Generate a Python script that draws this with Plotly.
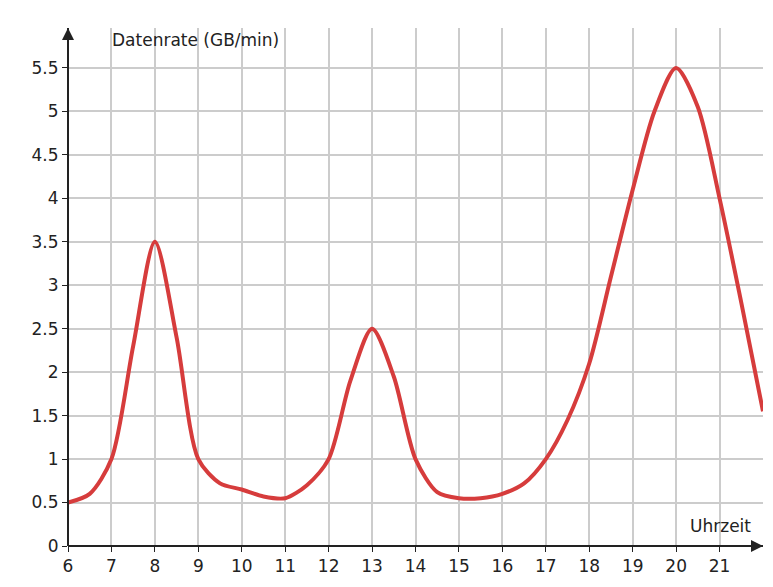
import plotly.graph_objects as go

hours = [6, 6.5, 7, 7.5, 8, 8.5, 9, 9.5, 10, 10.5, 11, 11.5, 12, 12.5, 13, 13.5, 14, 14.5, 15, 15.5, 16, 16.5, 17, 17.5, 18, 18.5, 19, 19.5, 20, 20.5, 21, 21.5, 22]
rate = [0.5, 0.6, 1.0, 2.3, 3.5, 2.4, 1.0, 0.72, 0.65, 0.57, 0.55, 0.7, 1.0, 1.9, 2.5, 1.95, 1.0, 0.62, 0.55, 0.55, 0.6, 0.72, 1.0, 1.45, 2.1, 3.1, 4.1, 5.0, 5.5, 5.05, 4.0, 2.8, 1.55]
xticks = list(range(6, 22))
yticks = [0, 0.5, 1, 1.5, 2, 2.5, 3, 3.5, 4, 4.5, 5, 5.5]

fig = go.Figure(go.Scatter(x=hours, y=rate, mode="lines",
                           line=dict(color="#d63c3c", width=4, shape="spline", smoothing=0.8)))
font = dict(family="DejaVu Sans", size=17, color="#222")
fig.update_layout(
    width=773, height=587, margin=dict(l=60, r=18, t=20, b=49),
    plot_bgcolor="white", paper_bgcolor="white", showlegend=False, font=font,
    xaxis=dict(range=[6, 22], tickvals=xticks, ticktext=[str(t) for t in xticks],
               showgrid=True, gridcolor="#cccccc", gridwidth=1.5, zeroline=False,
               showline=False, ticks="outside", ticklen=5, tickcolor="#222"),
    yaxis=dict(range=[0, 5.96], tickvals=yticks, ticktext=[f"{t:g}" for t in yticks],
               showgrid=True, gridcolor="#cccccc", gridwidth=1.5, zeroline=False,
               showline=False, ticks="outside", ticklen=5, tickcolor="#222"),
    annotations=[
        dict(x=0.06, y=1.0, xref="paper", yref="paper", text="Datenrate (GB/min)",
             showarrow=False, xanchor="left", yanchor="top", font=font),
        dict(x=0.985, y=0.015, xref="paper", yref="paper", text="Uhrzeit",
             showarrow=False, xanchor="right", yanchor="bottom", font=font),
        dict(x=1.0, y=0, ax=-12, ay=0, xref="paper", yref="paper",
             showarrow=True, arrowhead=2, arrowsize=1.2, arrowwidth=2, arrowcolor="#222", text=""),
        dict(x=0, y=1.0, ax=0, ay=12, xref="paper", yref="paper",
             showarrow=True, arrowhead=2, arrowsize=1.2, arrowwidth=2, arrowcolor="#222", text=""),
    ],
    shapes=[
        dict(type="line", xref="paper", yref="paper", x0=0, x1=1.0, y0=0, y1=0, line=dict(color="#222", width=2)),
        dict(type="line", xref="paper", yref="paper", x0=0, x1=0, y0=0, y1=1.0, line=dict(color="#222", width=2)),
    ],
)
fig.write_html("out.html")
